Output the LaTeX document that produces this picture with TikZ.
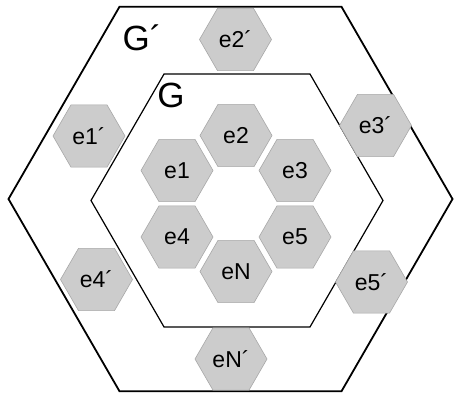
\documentclass[tikz,border=0pt]{standalone}
\usepackage{fontspec}
\setmainfont{Liberation Sans}
\usetikzlibrary{shapes.geometric}

\definecolor{cellfill}{HTML}{CCCCCC}
\definecolor{celldraw}{HTML}{A8A8A8}

\tikzset{
  cell/.style={regular polygon, regular polygon sides=6, minimum size=72pt,
    inner sep=0pt, outer sep=0pt, fill=cellfill, draw=celldraw, line width=0.6pt,
    font=\fontsize{23}{23}\selectfont},
  cluster/.style={regular polygon, regular polygon sides=6, inner sep=0pt,
    outer sep=0pt, draw=black, fill=white},
  grouplabel/.style={inner sep=0pt, font=\fontsize{35}{35}\selectfont}
}

\begin{document}
\begin{tikzpicture}[x=1pt,y=-1pt]
				\useasboundingbox (0,0) rectangle (454,396);
				
				% Esagoni dei gruppi G' e G
				\node[cluster, minimum size=444pt, line width=1.8pt] (Gext) at (230.5,199) {};
				\node[cluster, minimum size=292pt, line width=1.2pt] (Gint) at (237,200.5) {};
				\node[grouplabel] (GextName) at (142,38) {G´};
				\node[grouplabel] (GintName) at (171,95.5) {G};
				
				% Celle interne a G
				\node[cell] (e1) at (177,170.5) {e1};
				\node[cell] (e2) at (236,135.5) {e2};
				\node[cell] (e3) at (295,170.5) {e3};
				\node[cell] (e4) at (177,237) {e4};
				\node[cell] (e5) at (295,237) {e5};
				\node[cell] (eN) at (236,271.5) {eN};
				
				% Celle di bordo di G'
				\node[cell] (e1p) at (89,136) {e1´};
				\node[cell] (e2p) at (235.5,39.5) {e2´};
				\node[cell] (e3p) at (375.5,125.5) {e3´};
				\node[cell] (e4p) at (96.5,279.5) {e4´};
				\node[cell] (e5p) at (371.5,282) {e5´};
				\node[cell] (eNp) at (231,359) {eN´};
			\end{tikzpicture}
\end{document}
